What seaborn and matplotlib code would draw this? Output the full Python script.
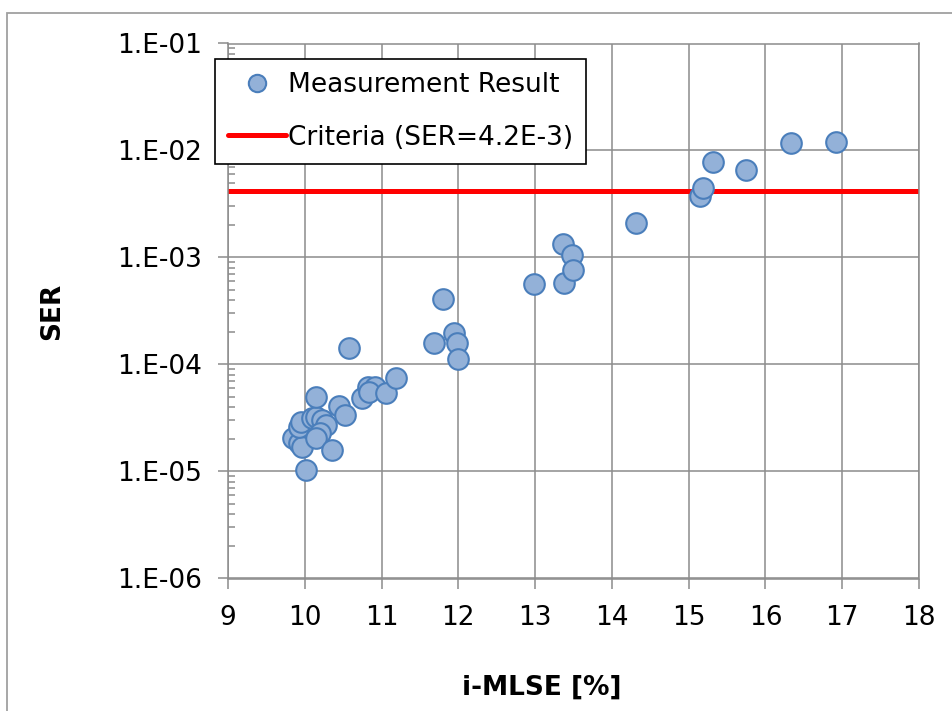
import matplotlib
matplotlib.use("Agg")
import matplotlib.pyplot as plt
import matplotlib.patches as mpatches
from matplotlib.lines import Line2D
from matplotlib.ticker import FixedLocator, FuncFormatter, LogLocator, NullFormatter
import seaborn as sns
import numpy as np
import pandas as pd

# ---- data ----
imlse = [9.85, 9.93, 9.97, 9.92, 9.95, 10.09, 10.15, 10.22, 10.28, 10.20,
         10.15, 10.02, 10.35, 10.15, 10.45, 10.52, 10.57, 10.74, 10.82, 10.92,
         10.84, 11.06, 11.19, 11.68, 11.80, 11.95, 11.98, 12.00, 12.99, 13.36,
         13.37, 13.48, 13.49, 14.31, 15.15, 15.19, 15.32, 15.75, 16.33, 16.92]
ser = [2.04e-5, 1.84e-5, 1.70e-5, 2.62e-5, 2.92e-5, 3.14e-5, 3.25e-5, 3.03e-5, 2.72e-5, 2.27e-5,
       2.04e-5, 1.03e-5, 1.59e-5, 4.93e-5, 4.10e-5, 3.37e-5, 1.42e-4, 4.83e-5, 6.20e-5, 6.20e-5,
       5.57e-5, 5.45e-5, 7.40e-5, 1.60e-4, 4.07e-4, 1.95e-4, 1.58e-4, 1.12e-4, 5.70e-4, 1.34e-3,
       5.74e-4, 1.05e-3, 7.64e-4, 2.11e-3, 3.76e-3, 4.43e-3, 7.86e-3, 6.57e-3, 1.17e-2, 1.19e-2]
criteria = 4.2e-3
x_ticks = [9, 10, 11, 12, 13, 14, 15, 16, 17, 18]
y_ticks = [1e-6, 1e-5, 1e-4, 1e-3, 1e-2, 1e-1]

df = pd.DataFrame({"i-MLSE": imlse, "SER": ser})

# ---- style ----
sns.set_style("white")
plt.rcParams["font.family"] = ["DejaVu Sans"]
plt.rcParams["font.size"] = 19
plt.rcParams["text.color"] = "black"
plt.rcParams["axes.labelcolor"] = "black"
plt.rcParams["xtick.labelcolor"] = "black"
plt.rcParams["ytick.labelcolor"] = "black"

FACE = "#93B1D8"
EDGE = "#4A7EBB"
GRID = "#8C8C8C"
FS = 19

fig = plt.figure(figsize=(9.52, 7.11), dpi=100)
ax = fig.add_axes([228 / 952, 1 - 578.5 / 711, (919 - 228) / 952, (578.5 - 43.5) / 711])

# outer chart border (runs off right/bottom edge like the reference)
fig.patches.append(mpatches.Rectangle((7 / 952, -0.1), 1.2, 1 - 13 / 711 + 0.1,
                                      transform=fig.transFigure, fill=False,
                                      edgecolor="#A0A0A0", linewidth=1.3, zorder=0))

ax.set_yscale("log")
ax.set_xlim(9, 18)
ax.set_ylim(1e-6, 1e-1)

ax.set_axisbelow(True)
ax.grid(True, which="major", color=GRID, linewidth=1.1)

ax.axhline(criteria, color="#FF0000", linewidth=3.6, zorder=2)
sns.scatterplot(data=df, x="i-MLSE", y="SER", ax=ax, s=220, color=FACE,
                edgecolor=EDGE, linewidth=1.5, zorder=3, legend=False)

ax.xaxis.set_major_locator(FixedLocator(x_ticks))
ax.yaxis.set_major_locator(FixedLocator(y_ticks))
ax.yaxis.set_minor_locator(LogLocator(base=10, subs=np.arange(2, 10)))
ax.yaxis.set_minor_formatter(NullFormatter())
ax.xaxis.set_major_formatter(FuncFormatter(lambda v, p: f"{int(v)}"))
ax.yaxis.set_major_formatter(FuncFormatter(lambda v, p: f"1.E-{int(round(-np.log10(v))):02d}"))

ax.tick_params(axis="both", which="major", direction="out", length=7, width=1.1,
               color=GRID, labelsize=FS, labelcolor="black", pad=12, left=True, bottom=True)
ax.tick_params(axis="y", which="minor", direction="in", length=5, width=1.1,
               color=GRID, left=True)

for sp in ax.spines.values():
    sp.set_color(GRID)
    sp.set_linewidth(1.1)

ax.set_xlabel("i-MLSE [%]", fontsize=FS, fontweight="bold", color="black")
ax.set_ylabel("SER", fontsize=FS, fontweight="bold", color="black")
ax.xaxis.set_label_coords((542 - 228) / (919 - 228), -(675 - 578.5) / 535)
ax.yaxis.set_label_coords(-(228 - 65) / 691, 0.5)

handles = [
    Line2D([], [], linestyle="none", marker="o", markersize=12.5,
           markerfacecolor=FACE, markeredgecolor=EDGE, markeredgewidth=1.5),
    Line2D([], [], color="#FF0000", linewidth=3.6),
]
leg = ax.legend(handles, ["Measurement Result", "Criteria (SER=4.2E-3)"],
                loc="upper left", bbox_to_anchor=(215 / 952, 1 - 59 / 711),
                bbox_transform=fig.transFigure, borderaxespad=0,
                fontsize=FS, frameon=True, fancybox=False, framealpha=1,
                edgecolor="black", borderpad=0.5, labelspacing=1.0,
                handlelength=2.2, handletextpad=0.05)
for t in leg.get_texts():
    t.set_color("black")
leg.get_frame().set_linewidth(1.2)
leg.set_zorder(5)

fig.savefig("out.png", dpi=100, facecolor="white")
